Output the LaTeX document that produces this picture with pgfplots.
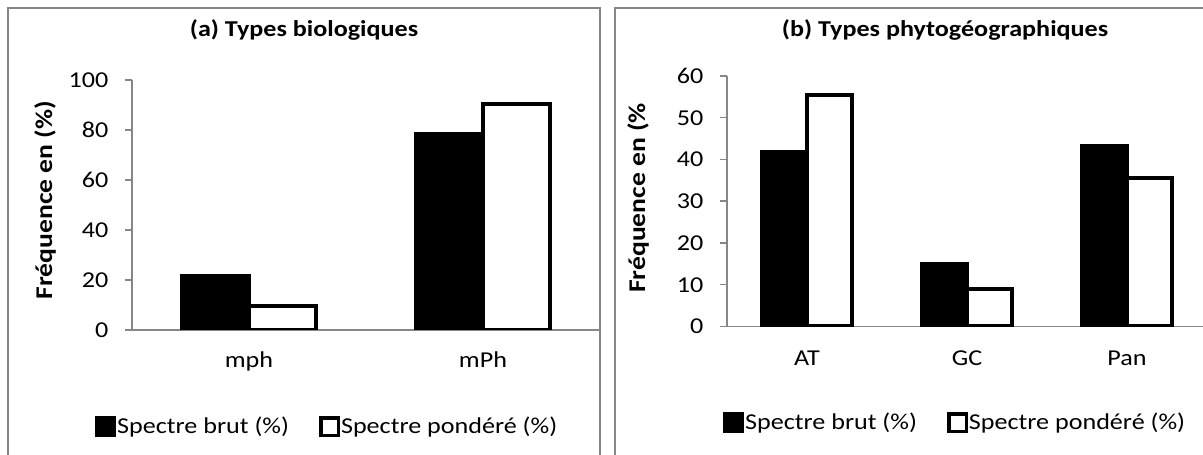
\documentclass[border=0pt]{standalone}
\usepackage{pgfplots}
\pgfplotsset{compat=1.18}
\usepackage{fontspec}
\setmainfont{Carlito}[FakeStretch=1.15]
\definecolor{framegray}{RGB}{134,134,134}
\begin{document}
\fontsize{22.7}{27}\selectfont
\begin{tikzpicture}
\useasboundingbox (0pt,0pt) rectangle (1203pt,455pt);
\draw[framegray, line width=2pt] (8pt,-5pt) -- (8pt,447pt) -- (600pt,447pt) -- (600pt,-5pt);
\draw[framegray, line width=2pt] (615pt,-5pt) -- (615pt,447pt) -- (1210pt,447pt);
\node[font=\fontsize{22.7}{27}\selectfont\bfseries] at (304pt,425pt) {(a) Types biologiques};
\node[font=\fontsize{22.7}{27}\selectfont\bfseries] at (945pt,425pt) {(b) Types phytogéographiques};
\node[font=\fontsize{24}{28}\selectfont\bfseries, rotate=90] at (45pt,255pt) {Fréquence en (\%)};
\node[font=\fontsize{24}{28}\selectfont\bfseries, rotate=90] at (638pt,257pt) {Fréquence en (\%};
\pgfplotsset{
  myaxis/.style={
    scale only axis, anchor=south west,
    axis x line*=bottom, axis y line*=left,
    axis line style={framegray, line width=1.5pt},
    xtick style={draw=none},
    ytick style={framegray, line width=1.5pt},
    tick align=outside, major tick length=7pt,
    ybar=0pt,
    tick label style={font=\fontsize{22.7}{27}\selectfont},
    /pgf/number format/assume math mode=true,
    yticklabel style={xshift=-9pt},
    legend columns=2,
    legend style={draw=none, fill=none, inner sep=0pt, anchor=west,
      font=\fontsize{22.7}{27}\selectfont,
      nodes={inner sep=1pt},
      /tikz/every even column/.append style={column sep=29pt}},
  },
  brut/.style={fill=black, draw=black, line width=4pt,
    legend image code/.code={\draw[fill=black, draw=black, line width=3pt] (1.5pt,-9pt) rectangle (19.5pt,9pt);}},
  pond/.style={fill=white, draw=black, line width=4pt,
    legend image code/.code={\draw[fill=white, draw=black, line width=3.5pt] (1.75pt,-8.75pt) rectangle (19.25pt,8.75pt);}},
}
\begin{axis}[myaxis, at={(132pt,125pt)}, width=468pt, height=250pt,
  xmin=-0.5, xmax=1.5, ymin=0, ymax=100, ytick={0,20,40,60,80,100},
  xtick={0,1}, xticklabels={mph,mPh}, bar width=67pt,
  xticklabel style={yshift=-7pt},
  legend style={at={(-0.079,-0.388)}}]
\addplot[brut] coordinates {(0,21.7) (1,78.3)};
\addplot[pond] coordinates {(0,9.5) (1,90.5)};
\legend{Spectre brut (\%), Spectre pondéré (\%)}
\end{axis}
\begin{axis}[myaxis, at={(727pt,128.5pt)}, width=476pt, height=250.5pt,
  xmin=-0.5, xmax=2.475, ymin=0, ymax=60, ytick={0,10,20,30,40,50,60},
  xtick={0,1,2}, xticklabels={AT,GC,Pan}, bar width=45pt,
  xticklabel style={yshift=-10pt},
  legend style={at={(-0.0084,-0.385)}}]
\addplot[brut] coordinates {(0,41.7) (1,15.0) (2,43.3)};
\addplot[pond] coordinates {(0,55.4) (1,9.0) (2,35.6)};
\legend{Spectre brut (\%), Spectre pondéré (\%)}
\end{axis}
\end{tikzpicture}
\end{document}
